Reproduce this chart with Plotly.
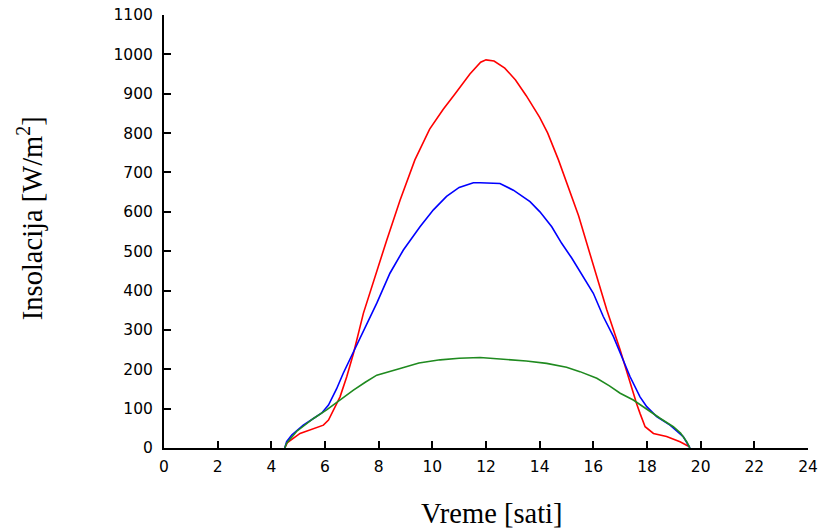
import plotly.graph_objects as go

red_t = [4.5, 4.6, 5.07, 5.5, 5.94, 6.13, 6.31, 6.56, 6.81, 7.06, 7.43, 7.86, 8.3, 8.8, 9.35, 9.9, 10.4, 10.85, 11.4, 11.8, 12.0, 12.3, 12.7, 13.1, 13.5, 14.0, 14.3, 14.7, 15.1, 15.45, 15.8, 16.1, 16.5, 17.0, 17.3, 17.61, 17.74, 17.93, 18.24, 18.73, 19.23, 19.58]
red_v = [0, 14, 37, 47, 58, 71, 97, 130, 181, 240, 342, 435, 528, 630, 732, 810, 860, 900, 950, 980, 986, 983, 965, 935, 895, 840, 800, 732, 655, 590, 510, 440, 351, 249, 181, 113, 88, 54, 37, 29, 16, 3]

blue_t = [4.5, 4.57, 4.76, 5.19, 5.57, 5.88, 6.13, 6.43, 6.68, 7.06, 7.43, 7.93, 8.42, 8.92, 9.54, 10.04, 10.53, 11.0, 11.53, 11.78, 12.52, 13.02, 13.64, 14.01, 14.45, 14.82, 15.2, 15.63, 16.0, 16.37, 16.75, 17.37, 17.74, 17.99, 18.36, 18.86, 19.35, 19.6]
blue_v = [0, 16, 33, 58, 75, 89, 109, 150, 190, 245, 300, 368, 444, 503, 562, 605, 639, 662, 674, 674, 672, 655, 626, 600, 562, 520, 482, 435, 393, 334, 283, 181, 130, 105, 80, 58, 29, 0]

green_t = [4.5, 4.57, 4.94, 5.57, 6.06, 6.5, 7.06, 7.5, 7.93, 8.8, 9.5, 10.29, 11.0, 11.78, 12.77, 13.5, 14.26, 15.0, 15.5, 16.13, 16.6, 17.0, 17.49, 18.11, 18.5, 18.98, 19.25, 19.48, 19.6]
green_v = [0, 12, 42, 75, 97, 120, 147, 167, 185, 202, 216, 224, 228, 230, 225, 221, 215, 205, 194, 177, 158, 139, 122, 92, 75, 54, 38, 16, 0]

x_ticks = list(range(0, 25, 2))
y_ticks = list(range(0, 1101, 100))

line_w = 1.6
fig = go.Figure()
fig.add_trace(go.Scatter(x=red_t, y=red_v, mode="lines", line=dict(color="#ff0000", width=line_w)))
fig.add_trace(go.Scatter(x=blue_t, y=blue_v, mode="lines", line=dict(color="#0000ff", width=line_w)))
fig.add_trace(go.Scatter(x=green_t, y=green_v, mode="lines", line=dict(color="#1f8a1f", width=line_w)))

axis_font = dict(family="DejaVu Sans", size=15.5, color="#000000")
title_font = dict(family="Liberation Serif", size=28.5, color="black")
fig.update_layout(
    width=820, height=529,
    margin=dict(l=164, r=12, t=15, b=81, autoexpand=False),
    paper_bgcolor="white", plot_bgcolor="white",
    showlegend=False,
    xaxis=dict(
        range=[0, 24], tickvals=x_ticks, ticktext=[str(v) for v in x_ticks],
        ticks="inside", ticklen=7, tickwidth=2, tickcolor="black",
        showline=True, linecolor="black", linewidth=2, showgrid=False, zeroline=False,
        tickfont=axis_font, ticklabelstandoff=3, automargin=False,
    ),
    yaxis=dict(
        range=[0, 1100], tickvals=y_ticks, ticktext=[str(v) for v in y_ticks],
        ticks="inside", ticklen=7, tickwidth=2, tickcolor="black",
        showline=True, linecolor="black", linewidth=2, showgrid=False, zeroline=False,
        tickfont=axis_font, ticklabelstandoff=6, automargin=False,
    ),
    annotations=[
        dict(text="Vreme [sati]", xref="paper", yref="paper", x=0.51, y=-0.152,
             xanchor="center", yanchor="middle", showarrow=False, font=title_font),
        dict(text="Insolacija [W/m<sup>2</sup>]", xref="paper", yref="paper", x=-0.208, y=0.531,
             xanchor="center", yanchor="middle", textangle=-90, showarrow=False, font=title_font),
    ],
)
fig.write_html("out.html")
